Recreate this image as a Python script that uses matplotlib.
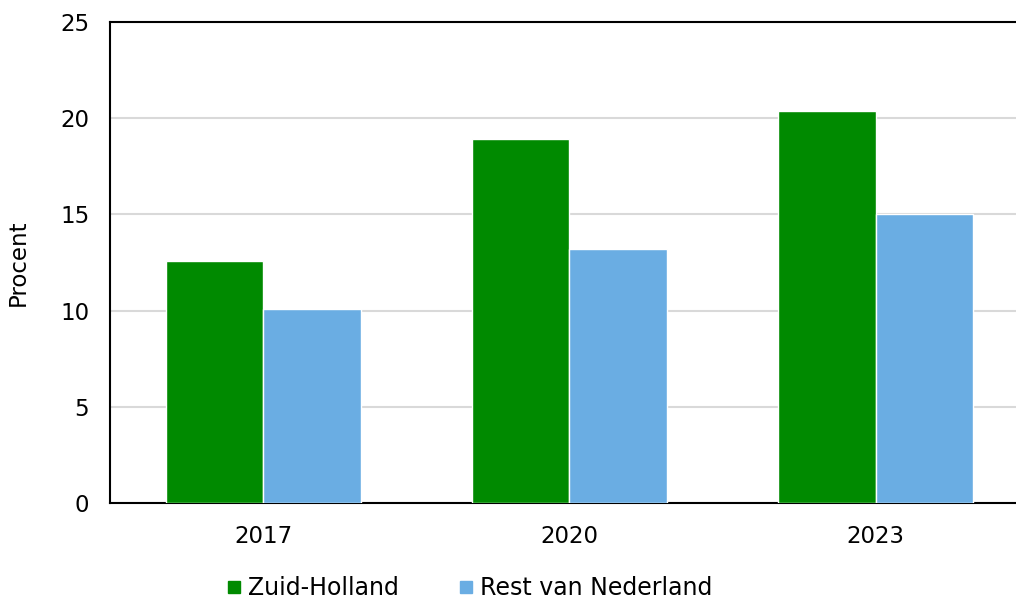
import numpy as np
import matplotlib.pyplot as plt
from matplotlib.lines import Line2D

# data
years = ['2017', '2020', '2023']
zuid_holland = [12.6, 18.9, 20.4]
rest_nl = [10.1, 13.2, 15.0]

green = '#008a00'
blue = '#6aade3'

plt.rcParams['font.family'] = ['DejaVu Sans']

fig = plt.figure(figsize=(10.16, 6.01), dpi=100)
ax = fig.add_axes([0.1083, 0.163, 0.8917, 0.8004])

x = np.arange(len(years))
w = 0.318
ax.bar(x - w / 2, zuid_holland, width=w, color=green, edgecolor='white', linewidth=1, zorder=3)
ax.bar(x + w / 2, rest_nl, width=w, color=blue, edgecolor='white', linewidth=1, zorder=3)

ax.set_xlim(-0.5, 2.458)
ax.set_ylim(0, 25)
ax.set_yticks(range(0, 26, 5))
ax.set_xticks(x)
ax.set_xticklabels(years)
ax.tick_params(axis='both', length=0, labelsize=16.5)
ax.tick_params(axis='x', pad=16)
ax.tick_params(axis='y', pad=15)
ax.yaxis.grid(True, color='#d9d9d9', linewidth=1.5, zorder=0)
ax.set_axisbelow(True)

for s in ['left', 'bottom', 'top']:
    ax.spines[s].set_linewidth(1.5)
    ax.spines[s].set_color('black')
ax.spines['right'].set_visible(False)

ax.set_ylabel('Procent', fontsize=16.5, labelpad=22)

handles = [
    Line2D([], [], marker='s', linestyle='none', color=green, markersize=9),
    Line2D([], [], marker='s', linestyle='none', color=blue, markersize=9),
]
fig.legend(handles, ['Zuid-Holland', 'Rest van Nederland'], loc='center',
           bbox_to_anchor=(0.461, 0.022), ncol=2, frameon=False, fontsize=17,
           handletextpad=0.2, columnspacing=2.45, handlelength=0.8)

fig.savefig('out.png', dpi=100)
